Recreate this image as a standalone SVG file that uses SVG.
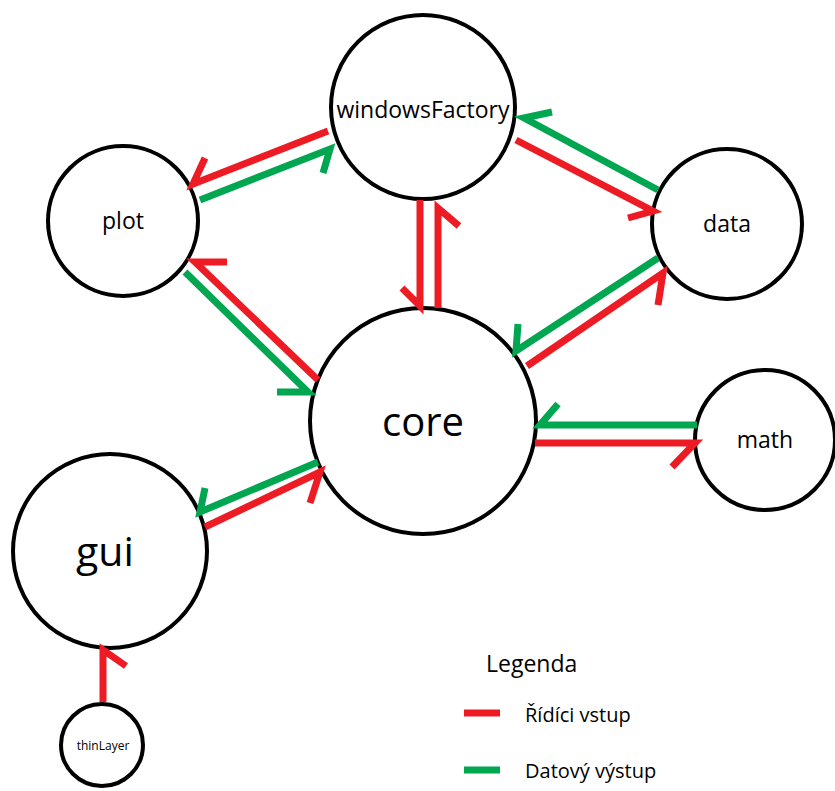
<svg xmlns="http://www.w3.org/2000/svg" width="835" height="791" viewBox="0 0 835 791">
<style>
.n{fill:#fff;stroke:#000;stroke-width:4}
.t{font-family:"Open Sans","Liberation Sans",sans-serif;fill:#000;text-anchor:middle}
.r{fill:none;stroke:#ED1C24;stroke-width:7;stroke-linejoin:miter}
.g{fill:none;stroke:#00A650;stroke-width:7;stroke-linejoin:miter}
.l{font-family:"Open Sans","Liberation Sans",sans-serif;fill:#000}
</style>
<rect width="835" height="791" fill="#fff"/>
<g id="windowsFactory"><circle class="n" cx="423" cy="107" r="92"/><text class="t" x="423" y="118" font-size="23">windowsFactory</text></g>
<g id="plot"><circle class="n" cx="123" cy="221" r="75"/><text class="t" x="123" y="229" font-size="23">plot</text></g>
<g id="data"><circle class="n" cx="727" cy="224" r="75"/><text class="t" x="727" y="232" font-size="23">data</text></g>
<g id="core"><circle class="n" cx="423" cy="421" r="113"/><text class="t" x="423" y="436" font-size="40">core</text></g>
<g id="math"><circle class="n" cx="765" cy="440" r="70"/><text class="t" x="765" y="448" font-size="23">math</text></g>
<g id="gui"><circle class="n" cx="110" cy="551" r="97"/><text class="t" x="105" y="566" font-size="41">gui</text></g>
<g id="thinLayer"><circle class="n" cx="102" cy="745" r="41"/><text class="t" x="103" y="750" font-size="12">thinLayer</text></g>
<g id="connectors">
<path class="r" d="M328,131 L193,184 L205,158"/>
<path class="g" d="M200,200 L330,149 L323,173"/>
<path class="r" d="M420,200 L420,306 L402,288"/>
<path class="r" d="M438,308 L438,208 L459,226"/>
<path class="g" d="M658,190 L524,118 L552,112"/>
<path class="r" d="M516,140 L653,211 L628,218"/>
<path class="r" d="M318,380 L195,262 L227,262"/>
<path class="g" d="M185,272 L308,392 L277,392"/>
<path class="g" d="M658,258 L516,351 L518,324"/>
<path class="r" d="M527,366 L663,273 L658,305"/>
<path class="g" d="M697,425 L540,425 L558,404"/>
<path class="r" d="M535,443 L695,443 L672,467"/>
<path class="g" d="M318,462 L200,512 L205,488"/>
<path class="r" d="M205,527 L320,472 L310,503"/>
<path class="r" d="M103,702 L103,650 L126,666"/>
</g>
<g id="legend">
<text class="l" x="486" y="672" font-size="23">Legenda</text>
<path class="r" d="M464,713 L500,713"/>
<text class="l" x="525" y="722" font-size="20">Řídíci vstup</text>
<path class="g" d="M464,770 L500,770"/>
<text class="l" x="525" y="778" font-size="20">Datový výstup</text>
</g>
</svg>
